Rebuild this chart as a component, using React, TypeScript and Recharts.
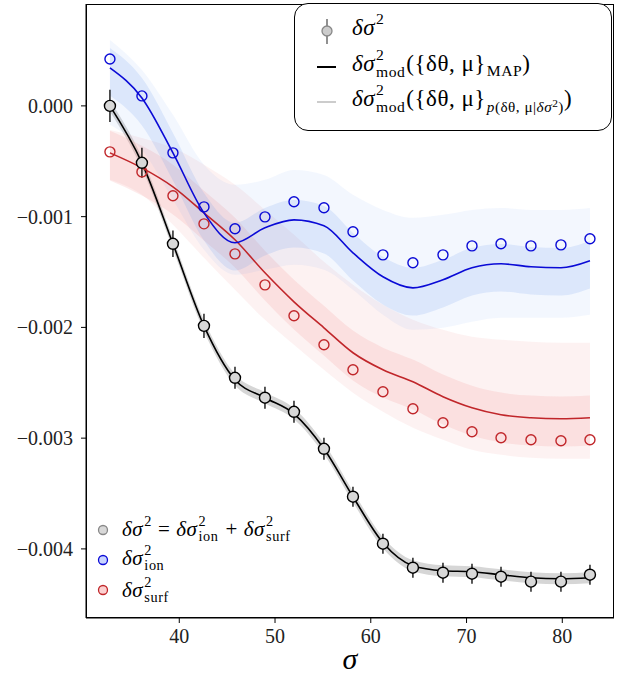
import React from "react";
import { ComposedChart, Line, Area, Scatter, XAxis, YAxis, ErrorBar } from "recharts";

// sigma positions of the measurements
const sigma = [32.76, 36.1, 39.34, 42.58, 45.82, 48.95, 51.98, 55.11, 58.14, 61.27, 64.4, 67.54, 70.57, 73.6, 76.73, 79.86, 82.89];

// observed points
const totalObs = [0.0, -0.514e-3, -1.245e-3, -1.986e-3, -2.455e-3, -2.635e-3, -2.762e-3, -3.096e-3, -3.529e-3, -3.953e-3, -4.17e-3, -4.215e-3, -4.224e-3, -4.251e-3, -4.296e-3, -4.296e-3, -4.233e-3];
const totalErr = [0.145e-3, 0.135e-3, 0.12e-3, 0.11e-3, 0.1e-3, 0.1e-3, 0.1e-3, 0.1e-3, 0.09e-3, 0.09e-3, 0.09e-3, 0.09e-3, 0.09e-3, 0.09e-3, 0.09e-3, 0.09e-3, 0.09e-3];
const ionObs = [0.424e-3, 0.09e-3, -0.424e-3, -0.912e-3, -1.11e-3, -1.002e-3, -0.866e-3, -0.92e-3, -1.137e-3, -1.345e-3, -1.417e-3, -1.345e-3, -1.264e-3, -1.245e-3, -1.264e-3, -1.255e-3, -1.2e-3];
const surfObs = [-0.415e-3, -0.596e-3, -0.812e-3, -1.065e-3, -1.336e-3, -1.616e-3, -1.895e-3, -2.157e-3, -2.383e-3, -2.581e-3, -2.735e-3, -2.861e-3, -2.942e-3, -2.996e-3, -3.014e-3, -3.023e-3, -3.014e-3];

// MAP model curves
const totalMap = [0.0, -0.514e-3, -1.245e-3, -1.986e-3, -2.473e-3, -2.635e-3, -2.78e-3, -3.096e-3, -3.529e-3, -3.944e-3, -4.152e-3, -4.197e-3, -4.206e-3, -4.233e-3, -4.26e-3, -4.269e-3, -4.26e-3];
const ionMap = [0.343e-3, 0.072e-3, -0.424e-3, -0.966e-3, -1.236e-3, -1.101e-3, -1.029e-3, -1.083e-3, -1.327e-3, -1.543e-3, -1.643e-3, -1.57e-3, -1.462e-3, -1.426e-3, -1.453e-3, -1.462e-3, -1.399e-3];
const surfMap = [-0.424e-3, -0.56e-3, -0.731e-3, -0.966e-3, -1.209e-3, -1.507e-3, -1.769e-3, -2.004e-3, -2.229e-3, -2.383e-3, -2.491e-3, -2.626e-3, -2.726e-3, -2.789e-3, -2.816e-3, -2.825e-3, -2.816e-3];

// posterior sample spread (read as envelopes)
const totalBandHi = [0.05e-3, -0.464e-3, -1.195e-3, -1.936e-3, -2.423e-3, -2.585e-3, -2.73e-3, -3.046e-3, -3.479e-3, -3.894e-3, -4.102e-3, -4.147e-3, -4.156e-3, -4.183e-3, -4.21e-3, -4.219e-3, -4.21e-3];
const totalBandLo = [-0.05e-3, -0.564e-3, -1.295e-3, -2.036e-3, -2.523e-3, -2.685e-3, -2.83e-3, -3.146e-3, -3.579e-3, -3.994e-3, -4.202e-3, -4.247e-3, -4.256e-3, -4.283e-3, -4.31e-3, -4.319e-3, -4.31e-3];
const ionOuterHi = [0.596e-3, 0.325e-3, -0.081e-3, -0.532e-3, -0.713e-3, -0.668e-3, -0.578e-3, -0.623e-3, -0.803e-3, -0.939e-3, -1.011e-3, -0.984e-3, -0.939e-3, -0.921e-3, -0.939e-3, -0.939e-3, -0.921e-3];
const ionOuterLo = [-0.171e-3, -0.397e-3, -0.848e-3, -1.3e-3, -1.525e-3, -1.48e-3, -1.435e-3, -1.48e-3, -1.661e-3, -1.886e-3, -2.022e-3, -2.004e-3, -1.949e-3, -1.913e-3, -1.913e-3, -1.913e-3, -1.886e-3];
const ionInnerHi = [0.523e-3, 0.252e-3, -0.244e-3, -0.786e-3, -1.056e-3, -0.921e-3, -0.849e-3, -0.903e-3, -1.147e-3, -1.363e-3, -1.463e-3, -1.39e-3, -1.282e-3, -1.246e-3, -1.273e-3, -1.282e-3, -1.219e-3];
const ionInnerLo = [0.093e-3, -0.178e-3, -0.674e-3, -1.216e-3, -1.486e-3, -1.351e-3, -1.279e-3, -1.333e-3, -1.577e-3, -1.793e-3, -1.893e-3, -1.82e-3, -1.712e-3, -1.676e-3, -1.703e-3, -1.712e-3, -1.649e-3];
const surfOuterHi = [-0.217e-3, -0.289e-3, -0.379e-3, -0.532e-3, -0.713e-3, -0.939e-3, -1.164e-3, -1.408e-3, -1.615e-3, -1.796e-3, -1.931e-3, -2.022e-3, -2.085e-3, -2.112e-3, -2.13e-3, -2.139e-3, -2.139e-3];
const surfOuterLo = [-0.668e-3, -0.803e-3, -1.074e-3, -1.372e-3, -1.661e-3, -1.931e-3, -2.157e-3, -2.383e-3, -2.59e-3, -2.762e-3, -2.906e-3, -3.014e-3, -3.105e-3, -3.15e-3, -3.177e-3, -3.186e-3, -3.186e-3];
const surfInnerHi = [-0.224e-3, -0.36e-3, -0.531e-3, -0.766e-3, -1.009e-3, -1.307e-3, -1.569e-3, -1.804e-3, -2.029e-3, -2.183e-3, -2.291e-3, -2.426e-3, -2.526e-3, -2.589e-3, -2.616e-3, -2.625e-3, -2.616e-3];
const surfInnerLo = [-0.674e-3, -0.81e-3, -0.981e-3, -1.216e-3, -1.459e-3, -1.757e-3, -2.019e-3, -2.254e-3, -2.479e-3, -2.633e-3, -2.741e-3, -2.876e-3, -2.976e-3, -3.039e-3, -3.066e-3, -3.075e-3, -3.066e-3];

const xTicks = [40, 50, 60, 70, 80];
const yTicks = [0, -0.001, -0.002, -0.003, -0.004];

const BLUE = "#0a0ad6";
const RED = "#c0262a";
const SERIF = "'Liberation Serif', 'DejaVu Serif', serif";

const rows = sigma.map((x, i) => ({
  x,
  totalMap: totalMap[i],
  ionMap: ionMap[i],
  surfMap: surfMap[i],
  totalBand: [totalBandLo[i], totalBandHi[i]],
  ionOuter: [ionOuterLo[i], ionOuterHi[i]],
  ionInner: [ionInnerLo[i], ionInnerHi[i]],
  surfOuter: [surfOuterLo[i], surfOuterHi[i]],
  surfInner: [surfInnerLo[i], surfInnerHi[i]],
}));

const totalPts = sigma.map((x, i) => ({ x, y: totalObs[i], err: totalErr[i] }));
const ionPts = sigma.map((x, i) => ({ x, y: ionObs[i] }));
const surfPts = sigma.map((x, i) => ({ x, y: surfObs[i] }));

const fmtY = (v: number) => (Math.abs(v) < 1e-9 ? "0.000" : "\u2212" + Math.abs(v).toFixed(3));

function ring(stroke: string, fill: string, r = 5) {
  return (p: any) => (
    <circle cx={p.cx} cy={p.cy} r={r} fill={fill} stroke={stroke} strokeWidth={1.4} />
  );
}

// superscript + subscript stacked after a symbol
function SS({ sup, sub }: { sup?: React.ReactNode; sub?: React.ReactNode }) {
  if (!sub) {
    return <span style={{ fontSize: "0.68em", position: "relative", top: "-0.7em", marginLeft: 1 }}>{sup}</span>;
  }
  if (!sup) {
    return <span style={{ fontSize: "0.68em", position: "relative", top: "0.35em", marginLeft: 1 }}>{sub}</span>;
  }
  return (
    <span
      style={{
        display: "inline-flex",
        flexDirection: "column",
        fontSize: "0.68em",
        lineHeight: 1.08,
        position: "relative",
        top: "-0.72em",
        marginLeft: 1,
        marginRight: 1,
      }}
    >
      <span>{sup}</span>
      <span>{sub}</span>
    </span>
  );
}

const ds = <i>δσ</i>;

export default function App() {
  return (
    <div style={{ position: "absolute", left: 0, top: 0, width: 628, height: 680, background: "#fff", fontFamily: SERIF }}>
      <ComposedChart width={628} height={680} data={rows} margin={{ top: 4, right: 14, bottom: 0, left: 0 }}>
        <XAxis
          dataKey="x"
          type="number"
          domain={[30.26, 85.4]}
          ticks={xTicks}
          allowDataOverflow
          height={62}
          tickSize={5}
          tickMargin={6}
          stroke="#000"
          tick={{ fill: "#222", fontSize: 20, fontFamily: SERIF }}
        />
        <YAxis
          type="number"
          domain={[-0.004624, 0.00092]}
          ticks={yTicks}
          allowDataOverflow
          width={86}
          tickSize={5}
          tickMargin={8}
          stroke="#000"
          tickFormatter={fmtY}
          tick={{ fill: "#222", fontSize: 20, fontFamily: SERIF }}
        />

        <Area dataKey="totalBand" type="monotone" stroke="none" fill="#777" fillOpacity={0.3} isAnimationActive={false} />
        <Area dataKey="surfOuter" type="monotone" stroke="none" fill="#f08080" fillOpacity={0.1} isAnimationActive={false} />
        <Area dataKey="surfInner" type="monotone" stroke="none" fill="#f08080" fillOpacity={0.16} isAnimationActive={false} />
        <Area dataKey="ionOuter" type="monotone" stroke="none" fill="#6495ed" fillOpacity={0.08} isAnimationActive={false} />
        <Area dataKey="ionInner" type="monotone" stroke="none" fill="#6495ed" fillOpacity={0.16} isAnimationActive={false} />

        <Line dataKey="totalMap" type="monotone" stroke="#000" strokeWidth={1.6} dot={false} isAnimationActive={false} />
        <Line dataKey="surfMap" type="monotone" stroke={RED} strokeWidth={1.6} dot={false} isAnimationActive={false} />
        <Line dataKey="ionMap" type="monotone" stroke={BLUE} strokeWidth={1.6} dot={false} isAnimationActive={false} />

        <Scatter data={surfPts} dataKey="y" shape={ring(RED, "none")} isAnimationActive={false} />
        <Scatter data={ionPts} dataKey="y" shape={ring(BLUE, "none")} isAnimationActive={false} />
        <Scatter data={totalPts} dataKey="y" shape={ring("#000", "#d8d8d8", 5.5)} isAnimationActive={false}>
          <ErrorBar dataKey="err" direction="y" width={0} stroke="#000" strokeWidth={1.3} />
        </Scatter>
      </ComposedChart>

      {/* axes frame */}
      <div style={{ position: "absolute", left: 86, top: 4, width: 528, height: 614, border: "1px solid #000", boxSizing: "border-box", pointerEvents: "none" }} />

      {/* x label */}
      <div style={{ position: "absolute", left: 330, top: 642, width: 40, textAlign: "center", fontSize: 30, fontStyle: "italic" }}>σ</div>

      {/* model legend */}
      <div style={{ position: "absolute", left: 294, top: 3, width: 318, height: 128, border: "1.5px solid #000", borderRadius: 14, background: "#fff", boxSizing: "border-box", fontSize: 23, letterSpacing: 0.5 }}>
        <svg style={{ position: "absolute", left: 0, top: 0 }} width={316} height={126}>
          <line x1={32} y1={15} x2={32} y2={40} stroke="#555" strokeWidth={1.3} />
          <circle cx={32} cy={27} r={5} fill="#ccc" stroke="#888" strokeWidth={1.3} />
          <line x1={22} y1={63} x2={41} y2={63} stroke="#000" strokeWidth={2} />
          <line x1={22} y1={98} x2={41} y2={98} stroke="#ccc" strokeWidth={2} />
        </svg>
        <div style={{ position: "absolute", left: 57, top: 11, whiteSpace: "nowrap" }}>
          {ds}<SS sup="2" />
        </div>
        <div style={{ position: "absolute", left: 57, top: 47, whiteSpace: "nowrap" }}>
          {ds}<SS sup="2" sub="mod" />({"{"}δθ, μ{"}"}<SS sub="MAP" />)
        </div>
        <div style={{ position: "absolute", left: 57, top: 82, whiteSpace: "nowrap" }}>
          {ds}<SS sup="2" sub="mod" />({"{"}δθ, μ{"}"}
          <span style={{ fontSize: "0.66em", position: "relative", top: "0.42em", marginLeft: 1 }}>
            <i>p</i>(δθ, μ|<i>δσ</i><span style={{ fontSize: "0.75em", position: "relative", top: "-0.5em" }}>2</span>)
          </span>
          )
        </div>
      </div>

      {/* data legend */}
      <svg style={{ position: "absolute", left: 0, top: 0, pointerEvents: "none" }} width={628} height={680}>
        <circle cx={103} cy={530} r={4.5} fill="#d8d8d8" stroke="#888" strokeWidth={1.3} />
        <circle cx={103} cy={560} r={4.5} fill="#c8d4ff" stroke={BLUE} strokeWidth={1.3} />
        <circle cx={103} cy={590} r={4.5} fill="#fcd0d0" stroke={RED} strokeWidth={1.3} />
      </svg>
      <div style={{ position: "absolute", left: 122, top: 517, fontSize: 21, letterSpacing: 0.6, whiteSpace: "nowrap" }}>
        {ds}<SS sup="2" /> = {ds}<SS sup="2" sub="ion" /> + {ds}<SS sup="2" sub="surf" />
      </div>
      <div style={{ position: "absolute", left: 122, top: 546, fontSize: 21, letterSpacing: 0.6, whiteSpace: "nowrap" }}>
        {ds}<SS sup="2" sub="ion" />
      </div>
      <div style={{ position: "absolute", left: 122, top: 578, fontSize: 21, letterSpacing: 0.6, whiteSpace: "nowrap" }}>
        {ds}<SS sup="2" sub="surf" />
      </div>
    </div>
  );
}
